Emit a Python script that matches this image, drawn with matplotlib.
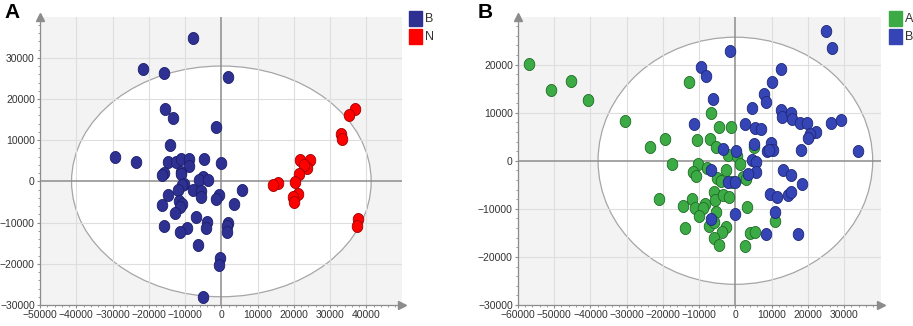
import numpy as np
import matplotlib
matplotlib.use("Agg")
import matplotlib.pyplot as plt
from matplotlib.patches import Ellipse, Rectangle
from matplotlib.path import Path
from matplotlib.ticker import MultipleLocator

plt.rcParams['font.family'] = ['Liberation Sans', 'DejaVu Sans']

# ---------------- Panel A data ----------------
a_B_x = [-7760, -21740, -15890, 1920, -15530, -13240, -1370, -14060, -29220, -23470,
         -14610, -12600, -11050, -8860, -8860, -4840, 0, -15890, -16350, -11140,
         -11140, -5020, -6210, -3650, -10320, -10870, -7760, -12050, -5480, -5480,
         -14700, -730, -1550, 5750, 3380, -11780, -10870, -11320, -16440, -12880,
         -7030, -3840, -4110, -9500, -11420, -15710, 1920, 1460, 1640, -6390,
         -270, -640, -5110]
a_B_y = [34840, 27260, 26290, 25400, 17660, 15480, 13150, 8790, 5890, 4600,
         4760, 4760, 5320, 5320, 3630, 5400, 4350, 2020, 1530, 2340,
         1850, 1130, 400, 320, -650, -890, -2180, -2180, -2420, -3710,
         -3310, -3390, -4270, -2100, -5480, -4760, -5400, -6210, -5730, -7580,
         -8550, -9760, -11290, -11210, -12180, -10730, -10000, -10730, -12260, -15400,
         -18550, -20240, -28060]
a_N_x = [36710, 35160, 32970, 33330, 21740, 24380, 23740, 22900, 21280, 20270,
         15530, 14160, 21190, 19820, 19910, 37720, 37260]
a_N_y = [17500, 16130, 11610, 10320, 5160, 5160, 3230, 4000, 1690, -240,
         -400, -810, -3060, -3870, -4920, -9030, -10730]

# ---------------- Panel B data ----------------
b_A_x = [-56850, -51020, -45370, -40650, -30560, -12780, -6850, -4440, -1110, -19540,
         -23700, -10650, -6940, -5280, 5280, -1940, 370, 1390, -17500, -10280,
         -7960, -2590, -11570, -10930, -5090, -3980, -930, 2040, 2960, -6020,
         -5650, -3520, -1760, -11850, -21200, -14350, -11020, -8430, -8800, -10000,
         -5280, 3150, 10930, -13800, -7410, -5830, -2590, -3610, -5930, -4440,
         4070, 5370, 2590]
b_A_y = [20070, 14620, 16620, 12550, 8340, 16410, 9930, 7030, 7030, 4480,
         2830, 4280, 4480, 2900, 2830, 1170, 970, -690, -690, -760,
         -1520, -1930, -2280, -3100, -3660, -4280, -4410, -3450, -3720, -6480,
         -8070, -7170, -7590, -7860, -8000, -9380, -9860, -8970, -9860, -11520,
         -10760, -9520, -12620, -14070, -13590, -12830, -13720, -14830, -16000, -17450,
         -15100, -14900, -17660]
b_B_x = [25090, 26570, -1480, -9350, -8150, 12500, 10000, -6110, 7870, 8520,
         4630, 12590, 12870, 15460, 15650, 17780, 19810, 22130, 20560, 20090,
         26390, 29070, 33800, -11300, 2590, 5370, 7040, -3330, 90, 5190,
         9810, 8700, 10460, 9170, 18060, 4630, 5740, 5650, 3520, 13060,
         15370, 18330, -6850, -2040, 0, 9630, 11480, 14440, 15370, 10830,
         -90, -6670, 8430, 17310]
b_B_y = [26900, 23380, 22830, 19590, 17660, 19170, 16410, 12900, 13860, 12280,
         10900, 10550, 9100, 9860, 8760, 7790, 7930, 5930, 5520, 4830,
         7790, 8550, 1930, 7590, 7660, 6830, 6690, 2480, 2000, 3450,
         3660, 2000, 2210, 2340, 2280, 210, -340, -2280, -2760, -1930,
         -3030, -4900, -2000, -4340, -4340, -6900, -7450, -7170, -6480, -10760,
         -10970, -12140, -15310, -15170]

legend_A = ['B', 'N']
legend_B = ['A', 'B']
xticks_A = list(range(-50000, 40001, 10000))
yticks_A = list(range(-30000, 30001, 10000))
xticks_B = list(range(-60000, 30001, 10000))
yticks_B = list(range(-30000, 20001, 10000))

W, H = 913, 326
fig = plt.figure(figsize=(W / 100, H / 100), dpi=100)

# oval marker (slightly taller than wide)
t = np.linspace(0, 2 * np.pi, 60)
oval = Path(np.column_stack([0.88 * np.cos(t), np.sin(t)]), closed=True)

def setup(rect, xlim, ylim, ell_w, ell_h, xticks, yticks):
    l, tp, r, b = rect
    ax = fig.add_axes([l / W, 1 - b / H, (r - l) / W, (b - tp) / H])
    ax.set_facecolor('#f3f3f3')
    ax.set_xlim(*xlim)
    ax.set_ylim(*ylim)
    ax.add_patch(Ellipse((0, 0), 2 * ell_w, 2 * ell_h, facecolor='white',
                         edgecolor='#a6a6a6', lw=0.9, zorder=1))
    for xv in xticks:
        if xv != 0:
            ax.axvline(xv, color='#dedede', lw=0.8, zorder=1.5)
    for yv in yticks:
        if yv != 0:
            ax.axhline(yv, color='#dedede', lw=0.8, zorder=1.5)
    ax.axvline(0, color='#8c8c8c', lw=1.1, zorder=1.6)
    ax.axhline(0, color='#8c8c8c', lw=1.1, zorder=1.6)
    for s in ['top', 'right']:
        ax.spines[s].set_visible(False)
    for s in ['left', 'bottom']:
        ax.spines[s].set_color('#8c8c8c')
        ax.spines[s].set_linewidth(0.9)
    ax.set_xticks(xticks)
    ax.set_yticks(yticks)
    ax.xaxis.set_minor_locator(MultipleLocator(2000))
    ax.yaxis.set_minor_locator(MultipleLocator(2000))
    ax.tick_params(which='major', length=2.2, width=0.8, color='#8c8c8c',
                   labelsize=7.5, labelcolor='#333333', pad=1.5)
    ax.tick_params(which='minor', length=1.5, width=0.6, color='#8c8c8c')
    # arrows
    ax.plot([0], [1], marker='^', color='#8c8c8c', ms=6, transform=ax.transAxes,
            clip_on=False, zorder=5)
    ax.plot([1], [0], marker='>', color='#8c8c8c', ms=6, transform=ax.transAxes,
            clip_on=False, zorder=5)
    return ax

axA = setup((40, 17, 402, 305), (-50000, 49800), (-30000, 39900), 41300, 28000,
            xticks_A, yticks_A)
axA.scatter(a_B_x, a_B_y, s=75, marker=oval, color='#2e3192', edgecolors='#1c1e6a',
            linewidths=0.6, zorder=3)
axA.scatter(a_N_x, a_N_y, s=75, marker=oval, color='#ff0000', edgecolors='#a00000',
            linewidths=0.6, zorder=3)

axB = setup((518, 17, 881, 305), (-60000, 40200), (-30000, 29900), 37900, 25700,
            xticks_B, yticks_B)
axB.scatter(b_A_x, b_A_y, s=75, marker=oval, color='#3cab45', edgecolors='#1d6b24',
            linewidths=0.6, zorder=3)
axB.scatter(b_B_x, b_B_y, s=75, marker=oval, color='#3545b5', edgecolors='#1e2878',
            linewidths=0.6, zorder=3)

# panel letters
fig.text(4 / W, 1 - 18 / H, 'A', fontsize=15, fontweight='bold')
fig.text(478 / W, 1 - 18 / H, 'B', fontsize=15, fontweight='bold')

# legends
def legend(x0, labels, colors):
    for i, (lab, c) in enumerate(zip(labels, colors)):
        y = 11 + i * 18
        fig.add_artist(Rectangle((x0 / W, 1 - (y + 15) / H), 13 / W, 15 / H,
                                 transform=fig.transFigure, color=c))
        fig.text((x0 + 16) / W, 1 - (y + 8) / H, lab, fontsize=9, va='center',
                 color='#333333')

legend(409, legend_A, ['#2e3192', '#ff0000'])
legend(889, legend_B, ['#3cab45', '#3545b5'])

fig.savefig('out.png', dpi=100)
